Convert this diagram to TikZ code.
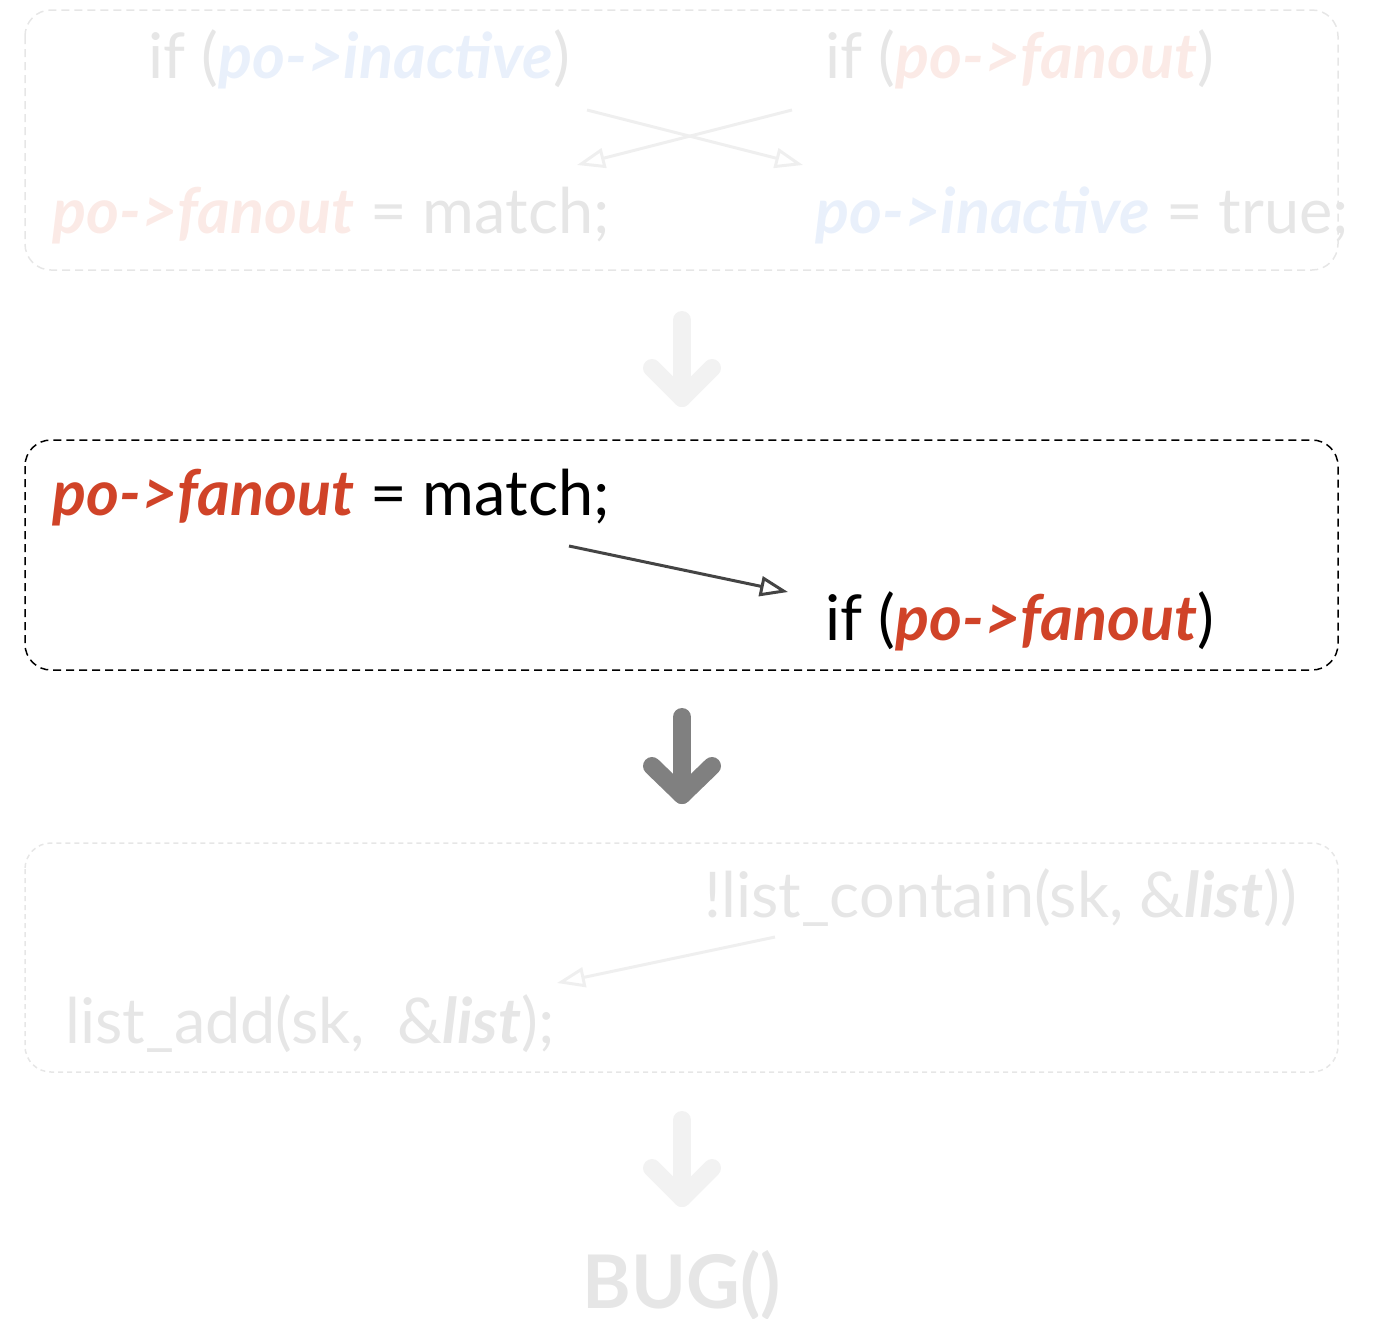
\documentclass[tikz,border=0pt]{standalone}
\usepackage{fontspec}
\setmainfont{Lato}
\usetikzlibrary{arrows.meta}
\definecolor{hired}{HTML}{D04328}
\definecolor{fadered}{HTML}{FBEAE6}
\definecolor{fadeblue}{HTML}{E9F0FB}
\definecolor{fadegray}{HTML}{E6E6E6}
\definecolor{faintline}{HTML}{EFEFEF}
\definecolor{bigarrowfaint}{HTML}{F2F2F2}
\definecolor{darkline}{HTML}{444444}
\definecolor{midarrow}{HTML}{808080}
\newcommand{\hv}[1]{\textbf{\textit{#1}}}
\tikzset{
  codetext/.style={anchor=base west, inner sep=0pt, font=\fontsize{63}{70}\selectfont},
  fadebox/.style={draw=fadegray, line width=1.5pt, dash pattern=on 8pt off 5pt, rounded corners=26pt},
  fadebox3/.style={draw=fadegray, line width=1.5pt, dash pattern=on 5pt off 4pt, rounded corners=26pt},
  mainbox/.style={draw=black, line width=1.5pt, dash pattern=on 8pt off 5pt, rounded corners=26pt},
  flowarrow/.style={line width=3pt, -{Triangle[open, length=28pt, width=20pt, line width=3pt]}},
  chevron/.style={line width=18pt, line cap=round, line join=round},
}
\begin{document}
\begin{tikzpicture}[x=1pt, y=-1pt]
\useasboundingbox (0,0) rectangle (1376,1318);
% box 1 (faded)
\draw[fadebox] (25,10) rectangle (1338,270);
\node[codetext, text=fadegray] (t1a) at (148,78) {if (\textcolor{fadeblue}{\hv{po->inactive}})};
\node[codetext, text=fadegray] (t1b) at (825,78) {if (\textcolor{fadered}{\hv{po->fanout}})};
\node[codetext, text=fadegray] (t1c) at (52,233) {\textcolor{fadered}{\hv{po->fanout}} = match;};
\node[codetext, text=fadegray] (t1d) at (815,233) {\textcolor{fadeblue}{\hv{po->inactive}} = true;};
\coordinate (c1s) at (587,110); \coordinate (c1e) at (803,165);
\coordinate (c2s) at (792,110); \coordinate (c2e) at (577,165);
\draw[flowarrow, faintline] (c1s) -- (c1e);
\draw[flowarrow, faintline] (c2s) -- (c2e);
% big arrow 1
\coordinate (a1t) at (682,320); \coordinate (a1b) at (682,398);
\draw[chevron, bigarrowfaint] (a1t) -- (a1b);
\draw[chevron, bigarrowfaint] (652,368) -- (a1b) -- (712,368);
% box 2 (main)
\draw[mainbox] (25,440) rectangle (1338,670);
\node[codetext, text=black] (t2a) at (52,515) {\textcolor{hired}{\hv{po->fanout}} = match;};
\node[codetext, text=black] (t2b) at (825,640) {if (\textcolor{hired}{\hv{po->fanout}})};
\coordinate (c3s) at (569,546); \coordinate (c3e) at (788,592);
\draw[flowarrow, darkline] (c3s) -- (c3e);
% big arrow 2
\coordinate (a2t) at (682,717); \coordinate (a2b) at (682,795);
\draw[chevron, midarrow] (a2t) -- (a2b);
\draw[chevron, midarrow] (652,766) -- (a2b) -- (712,766);
% box 3 (faded)
\draw[fadebox3] (25,843) rectangle (1338,1072);
\node[codetext, text=fadegray] (t3a) at (704,917) {!list\_contain(sk, \&\hv{list}))};
\node[codetext, text=fadegray] (t3b) at (65,1043) {list\_add(sk,\ \ \&\hv{list});};
\coordinate (c4s) at (775,937); \coordinate (c4e) at (557,983);
\draw[flowarrow, faintline] (c4s) -- (c4e);
% big arrow 3
\coordinate (a3t) at (682,1120); \coordinate (a3b) at (682,1198);
\draw[chevron, bigarrowfaint] (a3t) -- (a3b);
\draw[chevron, bigarrowfaint] (652,1168) -- (a3b) -- (712,1168);
% BUG
\node[anchor=base, inner sep=0pt, text=fadegray, font=\fontsize{74}{80}\selectfont\bfseries] (bug) at (682,1308) {BUG()};
\end{tikzpicture}
\end{document}
